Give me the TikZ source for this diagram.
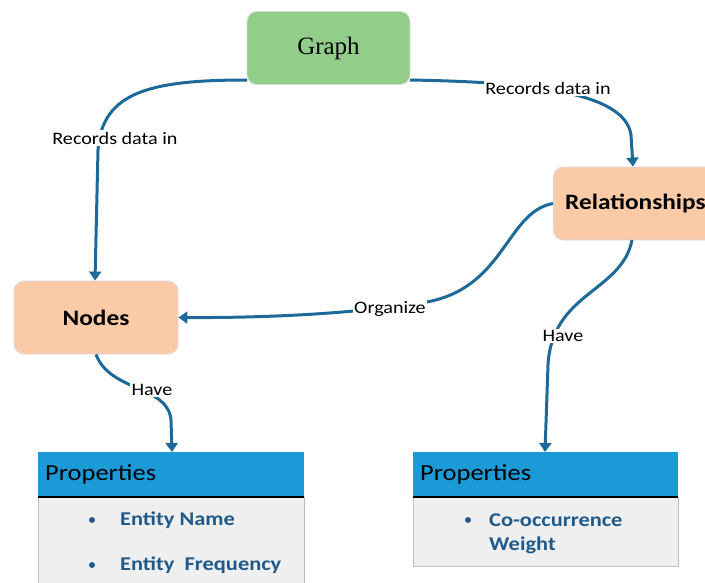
\documentclass[tikz,border=0pt]{standalone}
\usepackage{fontspec}
\setmainfont[FakeStretch=1.15]{Carlito}
\newfontfamily\serifgraph{Liberation Serif}
\usetikzlibrary{arrows.meta}
\definecolor{graphgreen}{HTML}{93CD8A}
\definecolor{peach}{HTML}{FBCBA8}
\definecolor{headblue}{HTML}{1A9AD6}
\definecolor{bodygray}{HTML}{EFEFEF}
\definecolor{linkblue}{HTML}{1D6A9A}
\definecolor{itemblue}{HTML}{1F5A8A}
\begin{document}
\begin{tikzpicture}[x=1pt,y=-1pt,
  roundbox/.style={rounded corners=10pt, draw=black!15, line width=0.8pt, minimum height=73pt, inner sep=0pt},
  link/.style={draw=linkblue, line width=3pt, -{Triangle[length=9pt,width=12pt]}},
  lbl/.style={fill=white, inner sep=1.5pt, font=\fontsize{17.5}{19}\selectfont},
  bodybox/.style={fill=bodygray, draw=black!25, line width=0.8pt, inner sep=0pt},
  item/.style={anchor=west, text=itemblue, font=\fontsize{19.5}{21}\selectfont\bfseries},
  dotitem/.style={circle, fill=itemblue, inner sep=0pt, minimum size=6pt},
  ptitle/.style={anchor=west, font=\fontsize{23}{25}\selectfont}]
\useasboundingbox (0,0) rectangle (705,582);

% boxes
\node[roundbox, fill=graphgreen, minimum width=163pt] (graph) at (328.5,48) {\serifgraph\fontsize{25}{27}\selectfont Graph};
\node[roundbox, fill=peach, minimum width=164pt, anchor=west] (rel) at (553,203.5) {};
\node[anchor=west, inner sep=0pt, font=\fontsize{22}{24}\selectfont\bfseries] (reltext) at (565,203.5) {Relationships};
\node[roundbox, fill=peach, minimum width=164pt] (nodes) at (96,317.5) {\fontsize{22}{24}\selectfont\bfseries Nodes};

% properties left
\path[bodybox] (38,497) rectangle (304,590);
\fill[headblue] (38,452) rectangle (304,497);
\draw[black, line width=2pt] (38,497) -- (304,497);
\coordinate (propL) at (172,452);
\node[ptitle, inner sep=0pt] (propLtitle) at (45,474) {Properties};
\node[dotitem] (dL1) at (92,520) {};
\node[item, inner sep=0pt] (iL1) at (120,520) {Entity Name};
\node[dotitem] (dL2) at (92,565) {};
\node[item, inner sep=0pt] (iL2) at (120,565) {Entity\ \ Frequency};

% properties right
\path[bodybox] (413,497) rectangle (678,566);
\fill[headblue] (413,452) rectangle (678,497);
\draw[black, line width=2pt] (413,497) -- (678,497);
\coordinate (propR) at (545,452);
\node[ptitle, inner sep=0pt] (propRtitle) at (420,474) {Properties};
\node[dotitem] (dR1) at (468,520) {};
\node[item, inner sep=0pt] (iR1) at (489,520) {Co-occurrence};
\node[item, inner sep=0pt] (iR2) at (489,545) {Weight};

% connectors
\coordinate (gL) at (247,80);
\coordinate (gR) at (410,80);
\draw[link] (gL) .. controls (150,80) and (102,92) .. (98,150) -- (nodes.north -| 95,0);
\node[lbl] (l1) at (115,138) {Records data in};
\draw[link] (gR) .. controls (530,82) and (625,92) .. (631,135) -- (rel.north -| 633,0);
\node[lbl] (l2) at (548,88) {Records data in};
\draw[link] (rel.west) .. controls (505,212) and (505,292) .. (420,303) .. controls (370,311) and (290,318) .. (nodes.east);
\node[lbl] (l3) at (390,309) {Organize};
\draw[link] (nodes.south) .. controls (110,392) and (168,385) .. (171,420) -- (propL);
\node[lbl] (l4) at (152,390) {Have};
\coordinate (rS) at (632,240);
\draw[link] (rS) .. controls (622,292) and (552,292) .. (548,365) -- (propR);
\node[lbl] (l5) at (563,336) {Have};
\end{tikzpicture}
\end{document}
